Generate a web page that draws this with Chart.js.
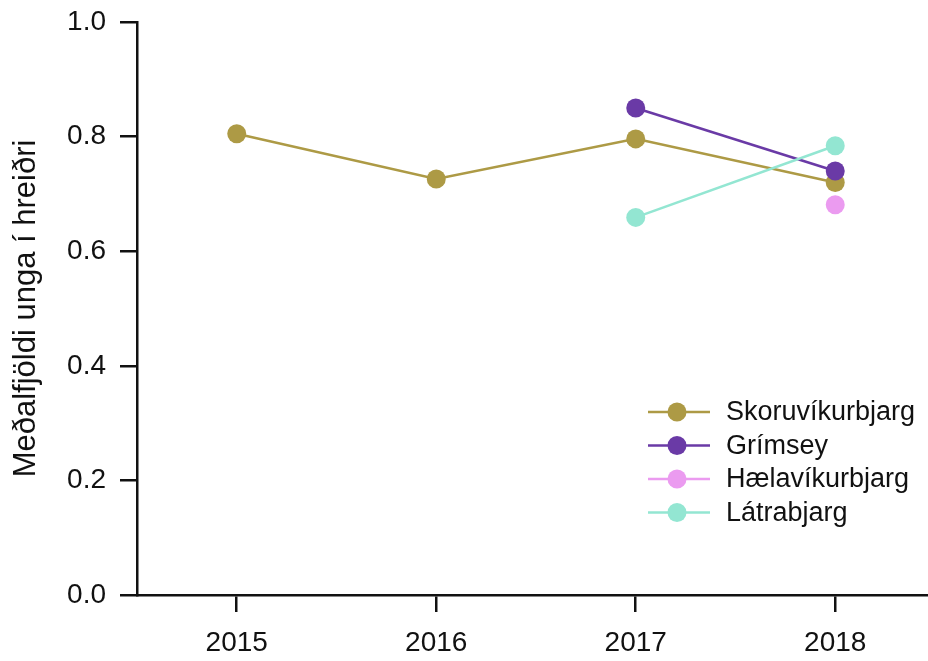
<!DOCTYPE html>
<html>
<head>
<meta charset="utf-8">
<script src="https://cdn.jsdelivr.net/npm/chart.js@4"></script>
<style>
    html, body { margin: 0; padding: 0; background: #fff; }
    #wrap { width: 928px; height: 661px; }
</style>
</head>
<body>
<div id="wrap"><canvas id="chart"></canvas></div>
<script>
// data
const years = [2015, 2016, 2017, 2018];
const seriesNames = ['Skoruvíkurbjarg', 'Grímsey', 'Hælavíkurbjarg', 'Látrabjarg'];
const skoruvikurbjarg = [0.805, 0.726, 0.796, 0.720];
const grimsey = [null, null, 0.850, 0.740];
const haelavikurbjarg = [null, null, null, 0.681];
const latrabjarg = [null, null, 0.659, 0.784];
const yTicks = [0, 0.2, 0.4, 0.6, 0.8, 1.0];
const yTitle = 'Meðalfjöldi unga í hreiðri';

const colors = ['#ad9a45', '#6a3aa6', '#eb9bf0', '#93e6d2'];
const FONT = '"Liberation Sans", Arial, sans-serif';

const toPoints = vals => vals.map((v, i) => ({ x: years[i], y: v }));
const allSeries = [skoruvikurbjarg, grimsey, haelavikurbjarg, latrabjarg];

const datasets = allSeries.map((vals, i) => ({
    label: seriesNames[i],
    data: toPoints(vals),
    borderColor: colors[i],
    backgroundColor: colors[i],
    pointBackgroundColor: colors[i],
    pointBorderWidth: 0,
    pointRadius: 9.5,
    borderWidth: 2.5,
    spanGaps: false,
    order: 4 - i
}));

// legend with line + dot, like the original
const lineLegend = {
    id: 'lineLegend',
    afterDraw(chart) {
        const ctx = chart.ctx;
        ctx.save();
        seriesNames.forEach((name, i) => {
            const y = 412 + i * 33.5;
            ctx.strokeStyle = colors[i];
            ctx.lineWidth = 2.5;
            ctx.beginPath();
            ctx.moveTo(648, y);
            ctx.lineTo(710, y);
            ctx.stroke();
            ctx.fillStyle = colors[i];
            ctx.beginPath();
            ctx.arc(677, y, 9.5, 0, Math.PI * 2);
            ctx.fill();
            ctx.fillStyle = '#111';
            ctx.font = '27px ' + FONT;
            ctx.textBaseline = 'middle';
            ctx.fillText(name, 726, y + 1);
        });
        ctx.restore();
    }
};

new Chart(document.getElementById('chart'), {
    type: 'line',
    data: { datasets: datasets },
    options: {
        responsive: true,
        maintainAspectRatio: false,
        animation: false,
        layout: { autoPadding: false, padding: { top: 22, right: 0, left: 0, bottom: 0 } },
        plugins: {
            legend: { display: false },
            tooltip: { enabled: false }
        },
        scales: {
            x: {
                type: 'linear',
                min: 2014.5,
                max: 2018.465,
                afterBuildTicks: axis => { axis.ticks = years.map(v => ({ value: v })); },
                afterFit: axis => { axis.height = 66; axis.paddingLeft = 0; axis.paddingRight = 0; },
                border: { display: true, color: '#111', width: 2.5 },
                grid: { drawOnChartArea: false, color: '#111', lineWidth: 2.5, tickLength: 17 },
                ticks: {
                    color: '#111',
                    font: { family: FONT, size: 28 },
                    padding: 14,
                    maxRotation: 0,
                    callback: v => String(v)
                }
            },
            y: {
                min: 0,
                max: 1,
                afterBuildTicks: axis => { axis.ticks = yTicks.map(v => ({ value: v })); },
                afterFit: axis => { axis.width = 137; axis.paddingTop = 0; axis.paddingBottom = 0; },
                border: { display: true, color: '#111', width: 2.5 },
                grid: { drawOnChartArea: false, color: '#111', lineWidth: 2.5, tickLength: 17 },
                title: {
                    display: true,
                    text: yTitle,
                    color: '#111',
                    font: { family: FONT, size: 31 },
                    padding: { top: 8, bottom: 0 }
                },
                ticks: {
                    color: '#111',
                    font: { family: FONT, size: 28 },
                    padding: 14,
                    callback: v => v.toFixed(1)
                }
            }
        }
    },
    plugins: [lineLegend]
});
</script>
</body>
</html>
